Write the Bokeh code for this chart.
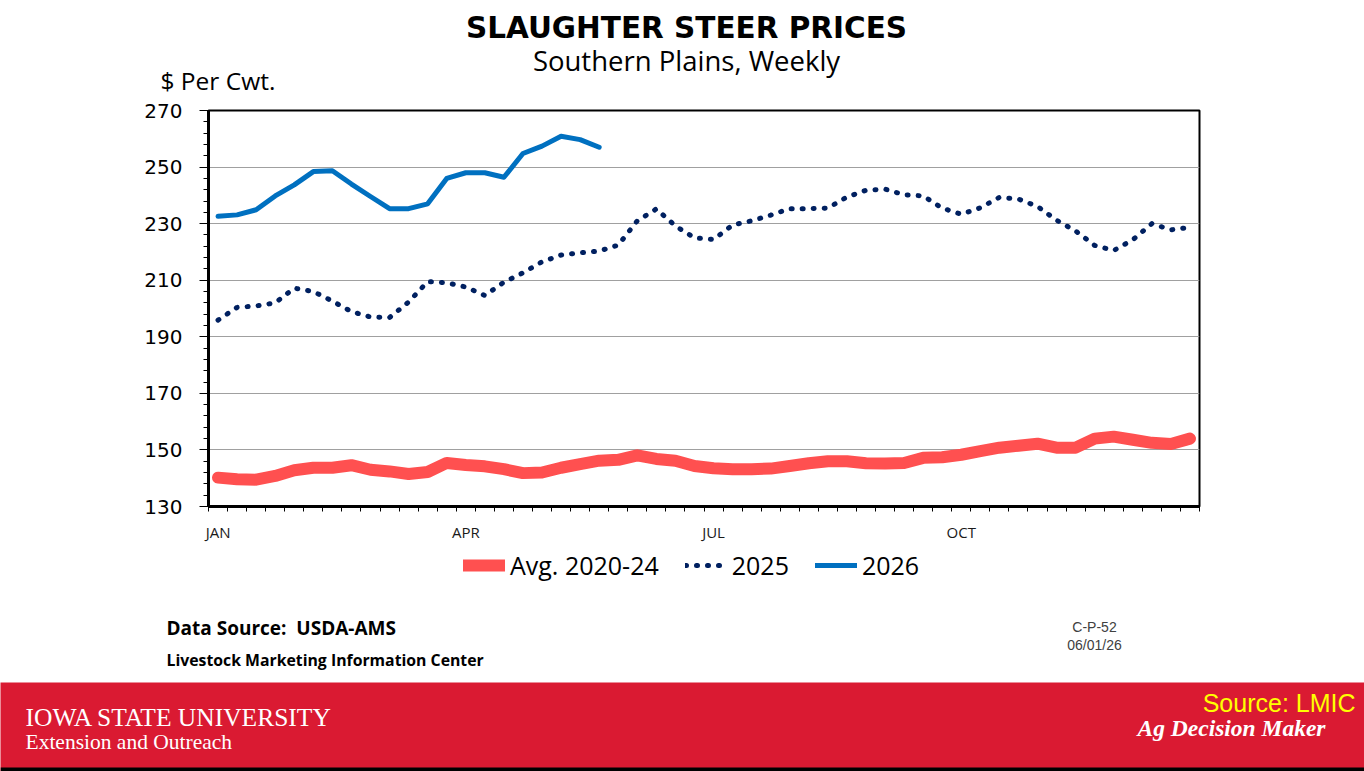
from bokeh.plotting import figure
from bokeh.models import Range1d, FixedTicker, Label, Legend, LegendItem
from bokeh.layouts import column, row
from bokeh.embed import file_html
from bokeh.resources import INLINE

# ---------------- data ----------------
weeks = list(range(1, 53))
avg_2020_24 = [140.2, 139.6, 139.5, 140.8, 142.8, 143.7, 143.7, 144.6, 143.0, 142.4,
               141.5, 142.2, 145.4, 144.7, 144.2, 143.2, 141.8, 142.0, 143.7, 145.0,
               146.2, 146.5, 148.1, 146.8, 146.2, 144.3, 143.5, 143.2, 143.2, 143.4,
               144.3, 145.3, 146.0, 146.0, 145.3, 145.2, 145.4, 147.2, 147.4, 148.3,
               149.6, 150.8, 151.5, 152.2, 150.8, 150.8, 154.0, 154.7, 153.6, 152.5,
               152.1, 154.0]
y2025 = [195.9, 200.4, 200.9, 202.0, 207.2, 206.0, 202.6, 198.9, 197.0, 196.8,
         202.3, 209.5, 209.1, 207.6, 204.6, 209.3, 212.6, 216.5, 218.9, 219.7,
         220.3, 222.4, 231.0, 235.2, 229.2, 225.0, 224.4, 229.5, 231.0, 233.0,
         235.3, 235.3, 235.5, 239.4, 241.8, 242.2, 240.2, 239.8, 235.5, 233.3,
         235.6, 239.3, 238.7, 236.1, 231.2, 227.4, 222.3, 220.5, 224.3, 230.0,
         227.8, 228.7]
y2026 = [232.6, 233.1, 234.9, 239.8, 243.7, 248.4, 248.7, 244.0, 239.6, 235.3,
         235.3, 237.0, 246.0, 248.0, 248.0, 246.4, 254.8, 257.4, 260.9, 259.7,
         257.0]
month_labels = ["JAN", "APR", "JUL", "OCT"]
month_weeks = [1, 14, 27, 40]
y_ticks = [130, 150, 170, 190, 210, 230, 250, 270]
series_names = ["Avg. 2020-24", "2025", "2026"]

W = 1364
RED = "#DA1A32"
AVG_C, C25, C26 = "#FF5050", "#002060", "#0070C0"


def no_align(f):
    try:
        f.frame_align = False
    except Exception:
        pass
    return f


def text_fig(top, bottom, bg="white"):
    f = figure(width=W, height=bottom - top, output_backend="svg",
               toolbar_location=None, x_range=Range1d(0, W),
               y_range=Range1d(bottom, top), min_border=0,
               min_border_left=0, min_border_right=0,
               min_border_top=0, min_border_bottom=0,
               background_fill_color=bg, border_fill_color=bg)
    f.axis.visible = False
    f.grid.visible = False
    f.outline_line_color = None
    return no_align(f)


def lab(f, x, y, text, font, size, align="left", style="normal", color="black"):
    f.add_layout(Label(x=x, y=y, text=text, text_font=font, text_font_size=size,
                       text_align=align, text_baseline="middle",
                       text_font_style=style, text_color=color))


# ---------------- top texts ----------------
T = text_fig(0, 98)
lab(T, 686, 27, "SLAUGHTER STEER PRICES", "DejaVu Sans", "29.5px", "center", "bold")
lab(T, 686, 60, "Southern Plains, Weekly", "Open Sans", "27.5px", "center")
lab(T, 160, 80, "$ Per Cwt.", "Open Sans", "24.5px")

# ---------------- main chart ----------------
FL, FW, FH = 208, 991, 399
TOPB, BOTB = 12, 35
p = figure(width=W, height=TOPB + FH + BOTB, output_backend="svg",
           toolbar_location=None, x_range=Range1d(0, 52), y_range=Range1d(130, 270),
           min_border_left=FL, min_border_right=W - FL - FW,
           min_border_top=TOPB, min_border_bottom=BOTB,
           background_fill_color="white", border_fill_color="white")
no_align(p)
p.outline_line_color = "black"
p.outline_line_width = 2

xs = [w - 0.5 for w in weeks]
p.line(xs, avg_2020_24, line_color=AVG_C, line_width=12,
       line_cap="round", line_join="round")
p.line(xs, y2025, line_color=C25, line_width=5, line_dash="1 10",
       line_cap="round", line_join="round")
p.line(xs[:len(y2026)], y2026, line_color=C26, line_width=5,
       line_cap="round", line_join="round")

p.xaxis.ticker = FixedTicker(ticks=[w - 0.5 for w in month_weeks],
                             minor_ticks=list(range(0, 53)))
p.xaxis.major_label_overrides = {w - 0.5: m for w, m in zip(month_weeks, month_labels)}
p.xaxis.major_tick_out = 0
p.xaxis.major_tick_in = 0
p.xaxis.minor_tick_out = 5
p.xaxis.minor_tick_in = 0
p.xaxis.minor_tick_line_color = "black"
p.xaxis.axis_line_width = 3
p.xaxis.axis_line_color = "black"
p.xaxis.major_label_text_font = "Open Sans"
p.xaxis.major_label_text_font_size = "15px"
p.xaxis.major_label_text_color = "#1a1a1a"
p.xaxis.major_label_standoff = 10

p.yaxis.ticker = FixedTicker(ticks=y_ticks, minor_ticks=list(range(130, 271, 4)))
p.yaxis.major_tick_out = 9
p.yaxis.major_tick_in = 0
p.yaxis.minor_tick_out = 5
p.yaxis.minor_tick_in = 0
p.yaxis.minor_tick_line_color = "black"
p.yaxis.major_tick_line_color = "black"
p.yaxis.axis_line_width = 3
p.yaxis.axis_line_color = "black"
p.yaxis.major_label_text_font = "DejaVu Sans"
p.yaxis.major_label_text_font_size = "20px"
p.yaxis.major_label_text_color = "black"
p.yaxis.major_label_standoff = 17

p.xgrid.grid_line_color = None
p.ygrid.ticker = FixedTicker(ticks=y_ticks)
p.ygrid.grid_line_color = "#A0A0A0"
p.ygrid.grid_line_width = 1

# ---------------- bottom texts + legend ----------------
B_TOP = TOPB + FH + BOTB + 98
B = text_fig(B_TOP, 682)
# legend sample renderers (kept outside the visible range)
g1 = B.line(x=[-50, -40], y=[600, 600], line_color=AVG_C, line_width=12, line_cap="round")
g2 = B.line(x=[-50, -40], y=[600, 600], line_color=C25, line_width=5,
            line_dash="1 10", line_cap="round")
g3 = B.line(x=[-50, -40], y=[600, 600], line_color=C26, line_width=5, line_cap="round")
legend = Legend(items=[LegendItem(label=series_names[0], renderers=[g1]),
                       LegendItem(label=series_names[1], renderers=[g2]),
                       LegendItem(label=series_names[2], renderers=[g3])],
                orientation="horizontal", location=(463, 682 - 583),
                label_text_font="Open Sans", label_text_font_size="25px",
                label_text_color="black", glyph_width=42, glyph_height=36,
                label_height=36, label_standoff=5, spacing=26,
                padding=0, margin=0, border_line_color=None,
                background_fill_alpha=0)
B.add_layout(legend, "center")
lab(B, 166, 627, "Data Source:\u00a0 USDA-AMS", "Open Sans", "19px", style="bold")
lab(B, 166, 659, "Livestock Marketing Information Center", "Open Sans", "15.8px", style="bold")
lab(B, 1094, 626, "C-P-52", "Liberation Sans", "14px", "center", color="#404040")
lab(B, 1094, 644, "06/01/26", "Liberation Sans", "14px", "center", color="#404040")

# ---------------- banner ----------------
R = text_fig(682, 771, bg=RED)
R.quad(left=[0], right=[W], top=[767], bottom=[771], fill_color="black", line_color=None)
lab(R, 25, 717, "IOWA STATE UNIVERSITY", "Liberation Serif", "25.5px", color="white")
lab(R, 25, 741, "Extension and Outreach", "Liberation Serif", "21.5px", color="white")
lab(R, 1355, 702, "Source: LMIC", "Liberation Sans", "25px", "right", color="#FFFF00")
lab(R, 1137, 727, "Ag Decision Maker", "Liberation Serif", "23.5px",
    style="bold italic", color="white")

layout = column(row(T), row(p), row(B), row(R), spacing=0)
open("out.html", "w").write(file_html(layout, INLINE))
